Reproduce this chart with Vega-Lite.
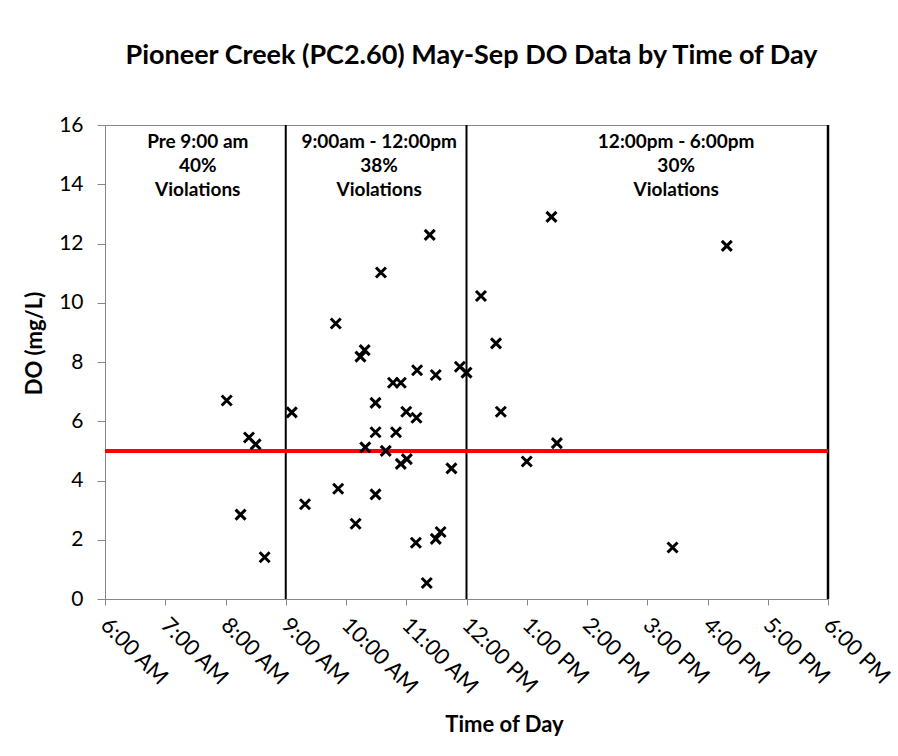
{
  "$schema": "https://vega.github.io/schema/vega-lite/v6.json",
  "autosize": "none",
  "width": 723,
  "height": 474,
  "padding": {"left": 105, "top": 125, "right": 70, "bottom": 157},
  "background": "white",
  "config": {
    "font": "Lato",
    "view": {"stroke": "#868686", "strokeWidth": 1},
    "axis": {"grid": false, "domainColor": "#868686", "tickColor": "#868686", "labelColor": "#000000", "titleColor": "#000000", "labelFont": "Lato", "titleFont": "Lato"}
  },
  "title": {
    "text": "Pioneer Creek (PC2.60) May-Sep DO Data by Time of Day",
    "fontSize": 27,
    "fontWeight": "bold",
    "font": "Lato",
    "color": "#000000",
    "anchor": "middle",
    "offset": 44,
    "dx": 5
  },
  "datasets": {
    "points": [
      {"h": 8.02, "do": 6.7}, {"h": 8.39, "do": 5.45}, {"h": 8.5, "do": 5.22}, {"h": 8.25, "do": 2.85}, {"h": 8.65, "do": 1.41},
      {"h": 9.1, "do": 6.3}, {"h": 9.32, "do": 3.2}, {"h": 9.87, "do": 3.72}, {"h": 10.16, "do": 2.54}, {"h": 10.24, "do": 8.18},
      {"h": 10.31, "do": 8.4}, {"h": 9.83, "do": 9.3}, {"h": 10.58, "do": 11.02}, {"h": 10.49, "do": 6.62}, {"h": 10.49, "do": 5.63},
      {"h": 10.32, "do": 5.12}, {"h": 10.66, "do": 5.0}, {"h": 10.49, "do": 3.53}, {"h": 10.78, "do": 7.3}, {"h": 10.91, "do": 7.3},
      {"h": 10.83, "do": 5.63}, {"h": 10.91, "do": 4.56}, {"h": 11.01, "do": 4.72}, {"h": 11.0, "do": 6.32}, {"h": 11.17, "do": 6.12},
      {"h": 11.18, "do": 7.72}, {"h": 11.16, "do": 1.9}, {"h": 11.34, "do": 0.54}, {"h": 11.39, "do": 12.29}, {"h": 11.49, "do": 7.56},
      {"h": 11.49, "do": 2.03}, {"h": 11.57, "do": 2.26}, {"h": 11.75, "do": 4.41}, {"h": 11.89, "do": 7.84}, {"h": 12.0, "do": 7.64},
      {"h": 12.24, "do": 10.23}, {"h": 12.49, "do": 8.63}, {"h": 12.57, "do": 6.32}, {"h": 13.0, "do": 4.64}, {"h": 13.5, "do": 5.26},
      {"h": 13.41, "do": 12.9}, {"h": 15.42, "do": 1.74}, {"h": 16.32, "do": 11.92}
    ],
    "dividers": [{"h": 9, "w": 2}, {"h": 12, "w": 2}, {"h": 18, "w": 2.5}],
    "standard": [{"do": 5}],
    "labels": [
      {"h": 7.54, "do": 15.72, "t": "Pre 9:00 am\n40%\nViolations"},
      {"h": 10.55, "do": 15.72, "t": "9:00am - 12:00pm\n38%\nViolations"},
      {"h": 15.48, "do": 15.72, "t": "12:00pm - 6:00pm\n30%\nViolations"}
    ]
  },
  "layer": [
    {
      "data": {"name": "dividers"},
      "mark": {"type": "rule", "color": "#000000"},
      "encoding": {
        "x": {"field": "h", "type": "quantitative", "scale": {"domain": [6, 18], "nice": false, "zero": false},
          "axis": {
            "values": [6, 7, 8, 9, 10, 11, 12, 13, 14, 15, 16, 17, 18],
            "labelExpr": "datum.value == 12 ? '12:00 PM' : (datum.value < 12 ? datum.value + ':00 AM' : (datum.value - 12) + ':00 PM')",
            "labelAngle": 45, "labelAlign": "left", "labelBaseline": "top", "labelFontSize": 22, "labelPadding": 9, "labelOffset": 6,
            "tickSize": 6, "labelOverlap": false, "labelBound": false, "labelFlush": false,
            "title": "Time of Day", "titleFontSize": 22, "titleFontWeight": "bold", "titlePadding": 17, "titleX": 399
          }},
        "strokeWidth": {"field": "w", "type": "quantitative", "scale": null}
      }
    },
    {
      "data": {"name": "standard"},
      "mark": {"type": "rule", "color": "#ff0000", "strokeWidth": 4},
      "encoding": {"y": {"field": "do", "type": "quantitative"}}
    },
    {
      "data": {"name": "points"},
      "mark": {"type": "point", "shape": "M-1,-1L1,1M-1,1L1,-1", "filled": false, "stroke": "#000000", "strokeWidth": 3, "size": 100, "opacity": 1},
      "encoding": {
        "x": {"field": "h", "type": "quantitative"},
        "y": {"field": "do", "type": "quantitative", "scale": {"domain": [0, 16], "nice": false},
          "axis": {"values": [0, 2, 4, 6, 8, 10, 12, 14, 16], "labelFontSize": 21, "tickSize": 8, "labelPadding": 14,
            "title": "DO (mg/L)", "titleFontSize": 22, "titleFontWeight": "bold", "titlePadding": 12, "titleY": 218}}
      }
    },
    {
      "data": {"name": "labels"},
      "mark": {"type": "text", "fontSize": 19, "fontWeight": "bold", "align": "center", "baseline": "top", "lineBreak": "\n", "lineHeight": 24, "color": "#000000"},
      "encoding": {
        "x": {"field": "h", "type": "quantitative"},
        "y": {"field": "do", "type": "quantitative"},
        "text": {"field": "t"}
      }
    }
  ]
}
